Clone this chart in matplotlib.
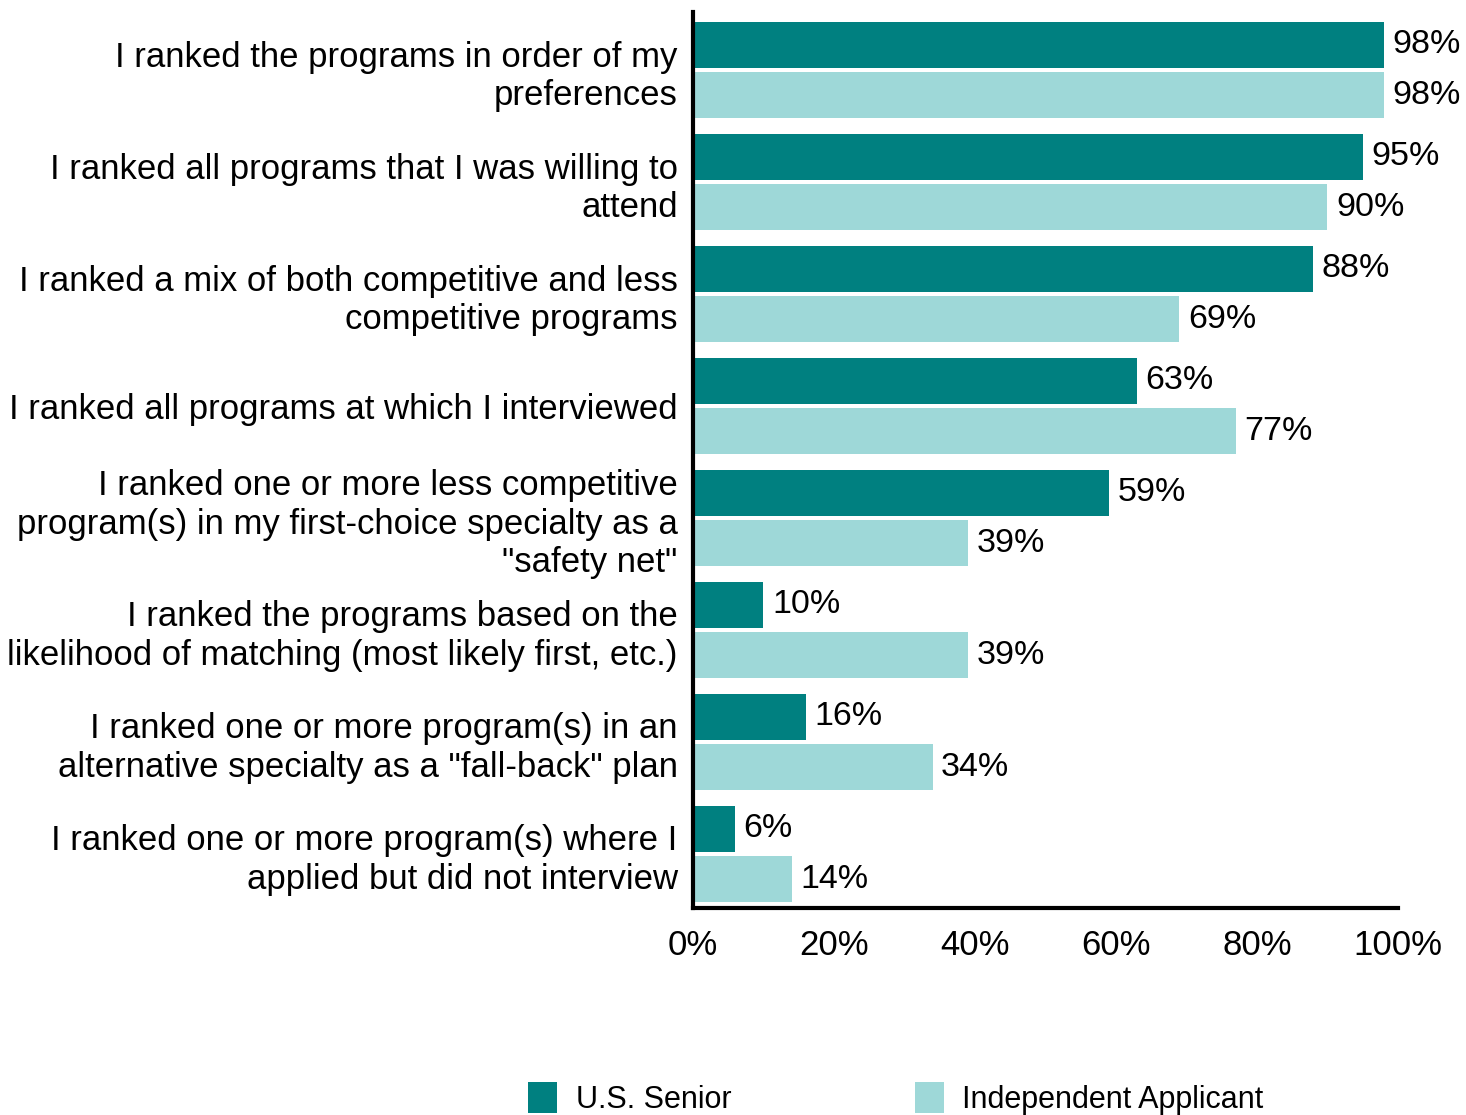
import matplotlib.pyplot as plt
import numpy as np

plt.rcParams['font.family'] = ['Liberation Sans', 'DejaVu Sans']

strategies = [
    'I ranked the programs in order of my\npreferences',
    'I ranked all programs that I was willing to\nattend',
    'I ranked a mix of both competitive and less\ncompetitive programs',
    'I ranked all programs at which I interviewed',
    'I ranked one or more less competitive\nprogram(s) in my first-choice specialty as a\n"safety net"',
    'I ranked the programs based on the\nlikelihood of matching (most likely first, etc.)',
    'I ranked one or more program(s) in an\nalternative specialty as a "fall-back" plan',
    'I ranked one or more program(s) where I\napplied but did not interview',
]
us_senior = [98, 95, 88, 63, 59, 10, 16, 6]
independent = [98, 90, 69, 77, 39, 39, 34, 14]
x_ticks = [0, 20, 40, 60, 80, 100]

dark = '#008080'
light = '#9ED8D8'
fs = 25

fig = plt.figure(figsize=(14.66, 11.15), dpi=100)
ax = fig.add_axes([0.4727, 0.1857, 0.4809, 0.8035])

y = np.arange(len(strategies))
off = 0.225
h = 0.41
b1 = ax.barh(y - off, us_senior, height=h, color=dark, label='U.S. Senior')
b2 = ax.barh(y + off, independent, height=h, color=light, label='Independent Applicant')

# percentage labels at the end of each bar
for bars, vals in [(b1, us_senior), (b2, independent)]:
    for bar, v in zip(bars, vals):
        ax.text(v + 1.2, bar.get_y() + bar.get_height() / 2, f'{v}%',
                va='center', ha='left', fontsize=24.5)

ax.set_xlim(0, 100)
ax.set_ylim(7.482, -0.518)
ax.set_yticks(y)
ax.set_yticklabels(strategies, fontsize=fs, ha='right', linespacing=1.2)
ax.set_xticks(x_ticks)
ax.set_xticklabels([f'{t}%' for t in x_ticks], fontsize=fs)
ax.tick_params(axis='y', length=0, pad=11)
ax.tick_params(axis='x', length=0, pad=15)

for s in ['top', 'right']:
    ax.spines[s].set_visible(False)
for s in ['left', 'bottom']:
    ax.spines[s].set_linewidth(3)
    ax.spines[s].set_color('black')

fig.legend(handles=[b1, b2], loc='center', bbox_to_anchor=(0.611, 0.015),
           ncol=2, frameon=False, fontsize=22, handlelength=0.95, handleheight=1.2,
           columnspacing=6.0, handletextpad=0.6)

fig.savefig('out.png', dpi=100)
